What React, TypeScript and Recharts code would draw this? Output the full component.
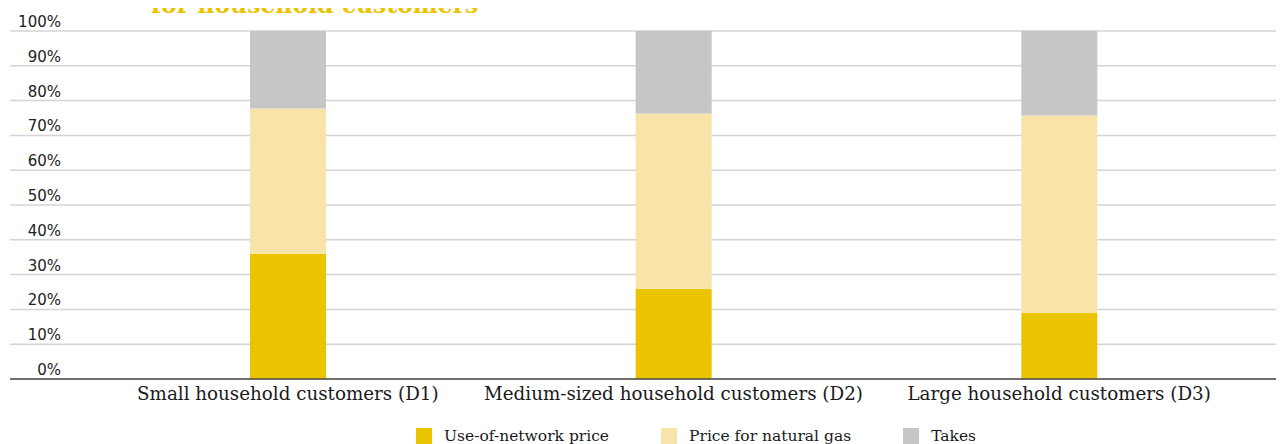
import React from 'react';
import { BarChart, Bar, XAxis, YAxis, CartesianGrid, Legend } from 'recharts';

const categories = [
  'Small household customers (D1)',
  'Medium-sized household customers (D2)',
  'Large household customers (D3)',
];
const networkPrice = [36.0, 25.9, 19.0];
const gasPrice = [41.7, 50.4, 56.7];
const taxes = [22.3, 23.7, 24.3];
const yTicks = [0, 10, 20, 30, 40, 50, 60, 70, 80, 90, 100];

const seriesNames = ['Use-of-network price', 'Price for natural gas', 'Takes'];
const seriesKeys = ['network', 'gas', 'taxes'];
const seriesColors = ['#EBC400', '#F8E4A9', '#C6C6C6'];

const titleText = 'for household customers';

const data = categories.map((name, i) => ({
  name,
  network: networkPrice[i],
  gas: gasPrice[i],
  taxes: taxes[i],
}));

const renderYTick = (props: any) => {
  const { y, payload } = props;
  return (
    <text x={61} y={y - 4} textAnchor="end" fontFamily="DejaVu Sans" fontSize={15} fill="#222">
      {payload.value}%
    </text>
  );
};

const renderXTick = (props: any) => {
  const { x, y, payload } = props;
  return (
    <text x={x} y={y + 21} textAnchor="middle" fontFamily="DejaVu Serif" fontSize={18.3} fill="#1a1a1a">
      {payload.value}
    </text>
  );
};

const LegendContent = () => (
  <div style={{ display: 'flex', paddingLeft: 407, paddingTop: 10, height: 16, alignItems: 'center' }}>
    {seriesNames.map((n, i) => (
      <div key={n} style={{ display: 'flex', alignItems: 'center', marginRight: 52 }}>
        <div style={{ width: 16, height: 16, background: seriesColors[i], marginRight: 12 }} />
        <span style={{ fontFamily: 'DejaVu Serif', fontSize: 15.5, color: '#1a1a1a', whiteSpace: 'nowrap' }}>{n}</span>
      </div>
    ))}
  </div>
);

export default function App() {
  return (
    <div style={{ position: 'relative', width: 1284, height: 444, marginLeft: -8, marginTop: -8, background: '#fff' }}>
      <svg style={{ position: 'absolute', left: 0, top: 0 }} width={1284} height={40}>
        <text x={151} y={13} fontFamily="DejaVu Serif" fontWeight="bold" fontSize={23.5} fill="#EBC400">
          {titleText}
        </text>
      </svg>
      <BarChart
        width={1284}
        height={444}
        data={data}
        margin={{ top: 31, right: 0, left: 9, bottom: 0 }}
        barSize={76}
      >
        <CartesianGrid vertical={false} stroke="#d4d4d4" strokeWidth={1.5} />
        <YAxis
          width={1}
          domain={[0, 100]}
          ticks={yTicks}
          axisLine={false}
          tickLine={false}
          tick={renderYTick}
          interval={0}
        />
        <XAxis
          dataKey="name"
          height={39}
          padding={{ left: 85, right: 32 }}
          tickLine={false}
          tickSize={0}
          tickMargin={0}
          axisLine={{ stroke: '#4a4a4a', strokeWidth: 1.5 }}
          tick={renderXTick}
          interval={0}
        />
        <Legend verticalAlign="bottom" height={26} content={<LegendContent />} />
        {seriesKeys.map((k, i) => (
          <Bar key={k} dataKey={k} name={seriesNames[i]} stackId="a" fill={seriesColors[i]} isAnimationActive={false} />
        ))}
      </BarChart>
    </div>
  );
}
